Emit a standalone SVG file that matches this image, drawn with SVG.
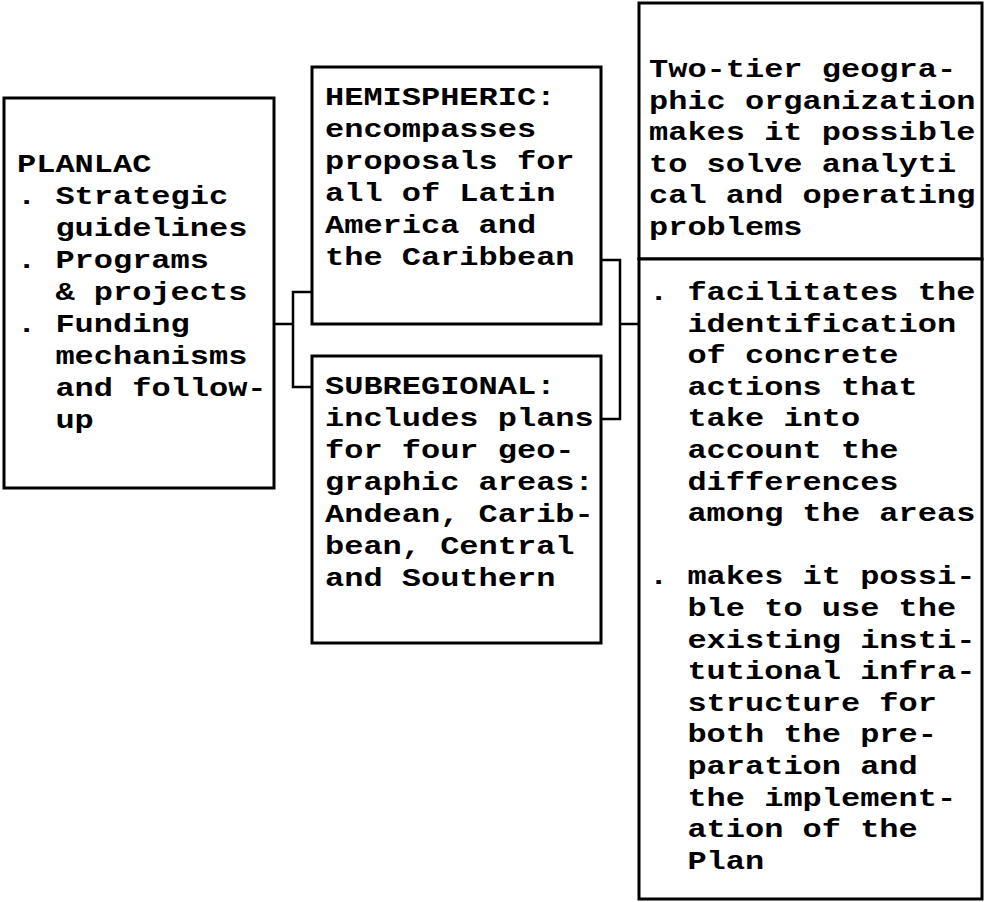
<svg xmlns="http://www.w3.org/2000/svg" width="988" height="902" viewBox="0 0 988 902">
<style>
.box{fill:#fff;stroke:#000;stroke-width:3}
.con{fill:none;stroke:#000;stroke-width:2.5}
.t{font-family:"Liberation Mono","DejaVu Sans Mono",monospace;font-weight:bold;font-size:25.5px;fill:#000}
</style>
<rect width="988" height="902" fill="#fff"/>
<g id="connectors">
<path class="con" d="M274,324 H293 M311.7,292 H293 V387 H311.7"/>
<path class="con" d="M601,260 H620 V419 H601 M620,324 H639"/>
</g>
<g id="planlac">
<rect class="box" x="4" y="98" width="270" height="390"/>
<g class="t" transform="translate(17 0) scale(1.255 1)">
<text x="0" y="172">PLANLAC</text>
<text x="0" y="204">. Strategic</text>
<text x="30.6" y="236">guidelines</text>
<text x="0" y="268">. Programs</text>
<text x="30.6" y="300">&amp; projects</text>
<text x="0" y="332">. Funding</text>
<text x="30.6" y="364">mechanisms</text>
<text x="30.6" y="396">and follow-</text>
<text x="30.6" y="428">up</text>
</g>
</g>
<g id="hemispheric">
<rect class="box" x="312" y="67" width="289" height="257"/>
<g class="t" transform="translate(325 0) scale(1.255 1)">
<text x="0" y="105">HEMISPHERIC:</text>
<text x="0" y="137">encompasses</text>
<text x="0" y="169">proposals for</text>
<text x="0" y="201">all of Latin</text>
<text x="0" y="233">America and</text>
<text x="0" y="265">the Caribbean</text>
</g>
</g>
<g id="subregional">
<rect class="box" x="312" y="356" width="289" height="287"/>
<g class="t" transform="translate(325 0) scale(1.255 1)">
<text x="0" y="394">SUBREGIONAL:</text>
<text x="0" y="426">includes plans</text>
<text x="0" y="458">for four geo-</text>
<text x="0" y="490">graphic areas:</text>
<text x="0" y="522">Andean, Carib-</text>
<text x="0" y="554">bean, Central</text>
<text x="0" y="586">and Southern</text>
</g>
</g>
<g id="two-tier">
<rect class="box" x="639" y="3" width="343" height="256"/>
<g class="t" transform="translate(649 0) scale(1.255 1)">
<text x="0" y="77">Two-tier geogra-</text>
<text x="0" y="108.6">phic organization</text>
<text x="0" y="140.2">makes it possible</text>
<text x="0" y="171.8">to solve analyti</text>
<text x="0" y="203.4">cal and operating</text>
<text x="0" y="235">problems</text>
</g>
</g>
<g id="benefits">
<rect class="box" x="639" y="259" width="343" height="640"/>
<g class="t" transform="translate(649 0) scale(1.255 1)">
<text x="0" y="300">. facilitates the</text>
<text x="30.6" y="331.6">identification</text>
<text x="30.6" y="363.2">of concrete</text>
<text x="30.6" y="394.8">actions that</text>
<text x="30.6" y="426.4">take into</text>
<text x="30.6" y="458">account the</text>
<text x="30.6" y="489.6">differences</text>
<text x="30.6" y="521.2">among the areas</text>
<text x="0" y="584.4">. makes it possi-</text>
<text x="30.6" y="616">ble to use the</text>
<text x="30.6" y="647.6">existing insti-</text>
<text x="30.6" y="679.2">tutional infra-</text>
<text x="30.6" y="710.8">structure for</text>
<text x="30.6" y="742.4">both the pre-</text>
<text x="30.6" y="774">paration and</text>
<text x="30.6" y="805.6">the implement-</text>
<text x="30.6" y="837.2">ation of the</text>
<text x="30.6" y="868.8">Plan</text>
</g>
</g>
</svg>
